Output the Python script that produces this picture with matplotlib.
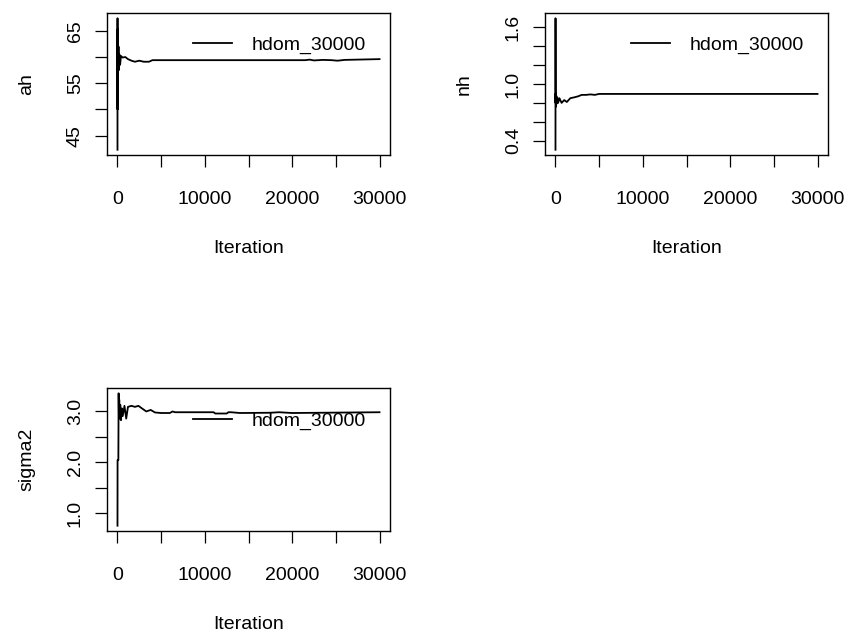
import matplotlib
matplotlib.use("Agg")
import matplotlib.pyplot as plt

plt.rcParams['font.family'] = ['Liberation Sans', 'DejaVu Sans']
plt.rcParams['font.size'] = 14

# ---- data ----
ah_iter = [1, 5, 10, 20, 40, 60, 80, 120, 160, 220, 300, 400, 600, 900, 1200,
           1600, 2000, 2500, 3000, 3600, 4000, 8000, 15000, 21500, 22000, 22500,
           23500, 24500, 25200, 26000, 30000]
ah_val = [42.3, 67.4, 50.0, 65.3, 57.3, 64.0, 58.0, 62.0, 57.5, 60.5, 58.5, 60.2,
          59.9, 60.0, 59.6, 59.3, 59.1, 59.3, 59.1, 59.1, 59.4, 59.4, 59.4, 59.4,
          59.5, 59.35, 59.45, 59.4, 59.3, 59.45, 59.6]

nh_iter = [1, 5, 15, 30, 50, 80, 120, 200, 300, 450, 700, 1000, 1300, 1700,
           2200, 2600, 3000, 3500, 4000, 4500, 5000, 30000]
nh_val = [0.305, 1.695, 0.80, 0.90, 0.76, 0.88, 0.79, 0.86, 0.80, 0.85, 0.80,
          0.83, 0.81, 0.85, 0.86, 0.87, 0.885, 0.885, 0.89, 0.885, 0.895, 0.895]

s2_iter = [1, 10, 100, 130, 160, 200, 260, 320, 400, 500, 600, 800, 1000, 1200,
           1600, 2000, 2400, 2800, 3300, 3800, 4300, 5000, 6000, 6300, 6600,
           11000, 11200, 12500, 12700, 13000, 14000, 17500, 18500, 20000, 30000]
s2_val = [0.758, 2.04, 2.04, 3.345, 2.95, 3.22, 2.85, 3.12, 2.82, 3.05, 2.90,
          3.10, 2.85, 3.08, 3.10, 3.08, 3.10, 3.05, 2.99, 3.02, 2.97, 2.96, 2.96,
          2.99, 2.975, 2.975, 2.95, 2.95, 2.975, 2.975, 2.96, 2.965, 2.975, 2.96,
          2.975]

x_ticks = [0, 5000, 10000, 15000, 20000, 25000, 30000]
x_labels = ['0', '', '10000', '', '20000', '', '30000']

ah_ticks = [45, 50, 55, 60, 65]
ah_labels = ['45', '', '55', '', '65']
nh_ticks = [0.4, 0.6, 0.8, 1.0, 1.2, 1.4, 1.6]
nh_labels = ['0.4', '', '', '1.0', '', '', '1.6']
s2_ticks = [1.0, 1.5, 2.0, 2.5, 3.0]
s2_labels = ['1.0', '', '2.0', '', '3.0']

legend_label = 'hdom_30000'
x_title = 'Iteration'

W, H = 846, 634
fig = plt.figure(figsize=(W / 100, H / 100), dpi=100)


def make_ax(left, top, right, bottom):
    return fig.add_axes([left / W, 1 - bottom / H, (right - left) / W, (bottom - top) / H])


def rlim(vals):
    lo, hi = min(vals), max(vals)
    r = hi - lo
    return lo - 0.04 * r, hi + 0.04 * r


panels = [
    (make_ax(107, 13, 390, 155), ah_iter, ah_val, ah_ticks, ah_labels, 'ah'),
    (make_ax(545, 13, 828, 155), nh_iter, nh_val, nh_ticks, nh_labels, 'nh'),
    (make_ax(107, 388, 390, 531), s2_iter, s2_val, s2_ticks, s2_labels, 'sigma2'),
]

for ax, xs, ys, yt, yl, name in panels:
    ax.plot(xs, ys, color='black', lw=1.3, label=legend_label)
    ax.set_xlim(*rlim([0] + xs))
    ax.set_ylim(*rlim(ys))
    ax.set_xticks(x_ticks)
    ax.set_xticklabels(x_labels)
    ax.set_yticks(yt)
    ax.set_yticklabels(yl, rotation=90, va='center')
    ax.tick_params(axis='both', direction='out', length=8.6, width=0.9, colors='black',
                   labelsize=14)
    ax.tick_params(axis='x', pad=17.5)
    ax.tick_params(axis='y', pad=8)
    for s in ax.spines.values():
        s.set_linewidth(1.0)
        s.set_color('black')
    ax.set_xlabel(x_title, fontsize=14, labelpad=23)
    ax.set_ylabel(name, fontsize=14, labelpad=23)
    ax.legend(loc='center left', bbox_to_anchor=(0.305, 0.772), frameon=False,
              borderaxespad=0, borderpad=0, handlelength=2.0, handletextpad=1.0,
              fontsize=14)

fig.savefig('out.png', dpi=100)
